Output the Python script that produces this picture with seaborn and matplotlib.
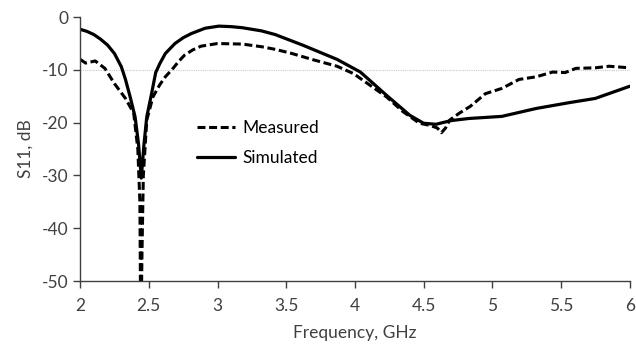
import pandas as pd
import matplotlib
matplotlib.use("Agg")
import matplotlib.pyplot as plt
import seaborn as sns

# valores (S11 em dB)
freq_medido = [2.00, 2.04, 2.11, 2.18, 2.25, 2.33, 2.39, 2.42, 2.435, 2.44, 2.445,
               2.45, 2.46, 2.485, 2.53, 2.58, 2.62, 2.67, 2.72, 2.76, 2.82, 2.88,
               3.00, 3.18, 3.32, 3.42, 3.53, 3.70, 3.87, 3.99, 4.11, 4.23, 4.35,
               4.47, 4.545, 4.60, 4.63, 4.66, 4.69, 4.76, 4.84, 4.95, 5.07, 5.195,
               5.32, 5.44, 5.53, 5.61, 5.75, 5.85, 6.00]
s11_medido = [-8.0, -8.7, -8.3, -9.7, -12.6, -15.4, -18.2, -25.0, -35.0, -55.0, -55.0,
              -45.0, -30.0, -19.5, -15.1, -12.8, -11.3, -9.9, -8.3, -7.2, -6.2, -5.5,
              -5.0, -5.1, -5.6, -6.1, -6.8, -8.1, -9.3, -10.7, -12.9, -15.1, -17.9,
              -20.1, -20.5, -21.0, -21.9, -21.0, -19.5, -18.2, -16.9, -14.5, -13.5, -11.8,
              -11.3, -10.4, -10.5, -9.7, -9.6, -9.3, -9.6]

freq_simulado = [2.00, 2.05, 2.10, 2.15, 2.20, 2.25, 2.30, 2.33, 2.364, 2.40, 2.425,
                 2.445, 2.465, 2.485, 2.52, 2.55, 2.58, 2.62, 2.69, 2.75, 2.81, 2.91,
                 3.01, 3.10, 3.18, 3.32, 3.42, 3.62, 3.87, 4.04, 4.23, 4.40, 4.50,
                 4.59, 4.70, 4.83, 5.07, 5.32, 5.56, 5.75, 6.00]
s11_simulado = [-2.3, -2.7, -3.3, -4.2, -5.3, -6.9, -9.4, -11.8, -15.1, -18.9, -24.0,
                -30.5, -24.0, -18.9, -14.5, -10.5, -8.8, -6.9, -5.0, -3.9, -3.1, -2.1,
                -1.7, -1.8, -2.0, -2.6, -3.3, -5.3, -8.0, -10.4, -14.8, -18.6, -20.1,
                -20.3, -19.6, -19.2, -18.8, -17.3, -16.2, -15.4, -13.1]

xticks = [2, 2.5, 3, 3.5, 4, 4.5, 5, 5.5, 6]
xtick_labels = ["2", "2.5", "3", "3.5", "4", "4.5", "5", "5.5", "6"]
yticks = [0, -10, -20, -30, -40, -50]
ytick_labels = ["0", "-10", "-20", "-30", "-40", "-50"]

df_medido = pd.DataFrame({"freq": freq_medido, "s11": s11_medido})
df_simulado = pd.DataFrame({"freq": freq_simulado, "s11": s11_simulado})

sns.set_theme(style="ticks")
plt.rcParams["font.family"] = ["Lato", "DejaVu Sans"]
cor_texto = "#404040"

fig, ax = plt.subplots(figsize=(6.36, 3.5), dpi=100)
fig.subplots_adjust(left=0.126, right=0.99, top=0.951, bottom=0.197)

ax.axhline(-10, color="#c8c8c8", lw=0.8, ls=(0, (1, 1)), zorder=0)

sns.lineplot(data=df_medido, x="freq", y="s11", ax=ax, color="black", lw=2.2,
             label="Measured", sort=False)
ax.lines[-1].set_dashes((2.6, 1.2))
sns.lineplot(data=df_simulado, x="freq", y="s11", ax=ax, color="black", lw=2.3,
             label="Simulated", sort=False)

ax.set_xlim(2, 6)
ax.set_ylim(-50, 0)
ax.set_xticks(xticks)
ax.set_xticklabels(xtick_labels)
ax.set_yticks(yticks)
ax.set_yticklabels(ytick_labels)
ax.tick_params(labelsize=12.5, colors=cor_texto, length=5, width=1.0, direction="out")
ax.tick_params(axis="x", pad=7)
for lado in ["left", "bottom"]:
    ax.spines[lado].set_color("#404040")
    ax.spines[lado].set_linewidth(1.0)
sns.despine(ax=ax)

ax.set_xlabel("Frequency, GHz", fontsize=12.5, color=cor_texto, labelpad=8)
ax.set_ylabel("S11, dB", fontsize=12.5, color=cor_texto, labelpad=6)

leg = ax.legend(loc="upper left", bbox_to_anchor=(0.213, 0.61), frameon=False, fontsize=12.5,
                handlelength=2.2, handletextpad=0.4, labelspacing=0.8, borderpad=0,
                borderaxespad=0, labelcolor="black")

plt.savefig("out.png", dpi=100)
